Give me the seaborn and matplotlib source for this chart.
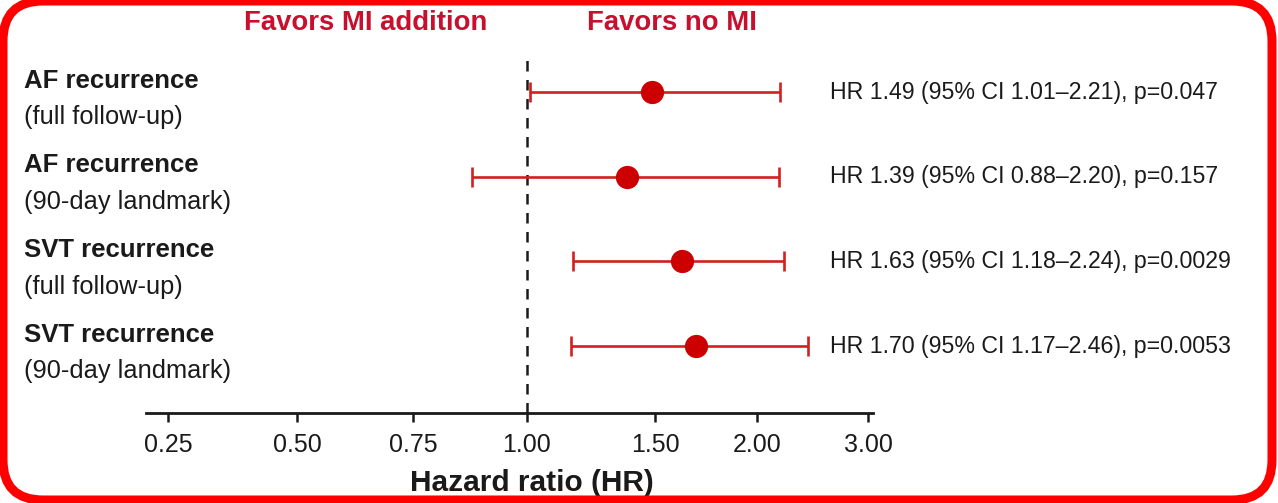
import numpy as np
import pandas as pd
import matplotlib
matplotlib.use("Agg")
import matplotlib.pyplot as plt
import matplotlib.transforms as mtransforms
from matplotlib.patches import FancyBboxPatch
import seaborn as sns

# ---- data -------------------------------------------------------------
outcomes = ["AF recurrence", "AF recurrence", "SVT recurrence", "SVT recurrence"]
windows = ["(full follow-up)", "(90-day landmark)", "(full follow-up)", "(90-day landmark)"]
hr = [1.49, 1.39, 1.63, 1.70]
ci_low = [1.01, 0.88, 1.18, 1.17]
ci_high = [2.21, 2.20, 2.24, 2.46]
p_values = ["0.047", "0.157", "0.0029", "0.0053"]

tick_values = [0.25, 0.50, 0.75, 1.00, 1.50, 2.00, 3.00]
tick_labels = ["0.25", "0.50", "0.75", "1.00", "1.50", "2.00", "3.00"]
# relative spacing of the tick marks along the axis
tick_spacing = [168, 297, 413, 527, 655, 757, 868]

df = pd.DataFrame({
    "outcome": outcomes, "window": windows, "hr": hr,
    "lo": ci_low, "hi": ci_high, "p": p_values,
})
df["row"] = np.arange(len(df))

# ---- style ------------------------------------------------------------
sns.set_theme(style="white")
FONT = ["Liberation Sans", "DejaVu Sans"]
plt.rcParams["font.family"] = FONT

RED_MARK = "#cc0000"
RED_BAR = "#d21f1f"
RED_TEXT = "#c8102e"
INK = "#1a1a1a"

W, H = 1278, 503
fig = plt.figure(figsize=(W / 100, H / 100), dpi=100)
fig.patch.set_facecolor("white")

ax = fig.add_axes([146 / W, 1 - 413 / H, (873 - 146) / W, (413 - 52) / H])

# piecewise-linear axis through the tick marks, extended linearly at both ends
tv = np.array(tick_values, float)
tp = np.array(tick_spacing, float)


def fwd(x):
    x = np.asarray(x, float)
    y = np.interp(x, tv, tp)
    lo_s = (tp[1] - tp[0]) / (tv[1] - tv[0])
    hi_s = (tp[-1] - tp[-2]) / (tv[-1] - tv[-2])
    y = np.where(x < tv[0], tp[0] + (x - tv[0]) * lo_s, y)
    y = np.where(x > tv[-1], tp[-1] + (x - tv[-1]) * hi_s, y)
    return y


def inv(y):
    y = np.asarray(y, float)
    x = np.interp(y, tp, tv)
    lo_s = (tv[1] - tv[0]) / (tp[1] - tp[0])
    hi_s = (tv[-1] - tv[-2]) / (tp[-1] - tp[-2])
    x = np.where(y < tp[0], tv[0] + (y - tp[0]) * lo_s, x)
    x = np.where(y > tp[-1], tv[-1] + (y - tp[-1]) * hi_s, x)
    return x


ax.set_xscale("function", functions=(fwd, inv))
ax.set_xlim(inv(146.0), inv(873.0))

step = 84.7
ax.set_ylim(3 + (361 - 40 - 3 * step) / step, -40 / step)

# reference line at HR = 1
ax.axvline(1.0, color=INK, lw=1.8, ls=(0, (4.2, 3.4)), zorder=1)

# confidence intervals
ax.errorbar(df["hr"], df["row"],
            xerr=[df["hr"] - df["lo"], df["hi"] - df["hr"]],
            fmt="none", ecolor=RED_BAR, elinewidth=1.9,
            capsize=7.2, capthick=1.9, zorder=2)

# point estimates
sns.scatterplot(data=df, x="hr", y="row", ax=ax, s=280, color=RED_MARK,
                edgecolor=RED_MARK, linewidth=0, zorder=3, legend=False)

# axes styling
for side in ["top", "right", "left"]:
    ax.spines[side].set_visible(False)
ax.spines["bottom"].set_linewidth(2.0)
ax.spines["bottom"].set_color(INK)
ax.set_yticks([])
ax.set_xticks(tick_values)
ax.set_xticklabels(tick_labels)
ax.xaxis.set_minor_locator(matplotlib.ticker.NullLocator())
ax.tick_params(axis="x", direction="out", length=6.5, width=1.8, color=INK,
               pad=8, labelsize=18, labelcolor=INK, bottom=True)
ax.set_xlabel("Hazard ratio (HR)", fontsize=21.5, fontweight="bold",
              color=INK)
ax.xaxis.set_label_coords((532 - 146) / (873 - 146), -0.155)
ax.set_ylabel("")
ax.set_facecolor("none")
ax.grid(False)

# row labels on the left and estimates on the right
trans = mtransforms.blended_transform_factory(fig.transFigure, ax.transData)
for _, r in df.iterrows():
    ax.text(24 / W, r["row"] - 0.05, r["outcome"], transform=trans,
            ha="left", va="baseline", fontsize=18.5, fontweight="bold",
            color=INK, clip_on=False)
    ax.text(24 / W, r["row"] + 0.38, r["window"], transform=trans,
            ha="left", va="baseline", fontsize=18.3, color=INK, clip_on=False)
    label = (f"HR {r['hr']:.2f} (95% CI {r['lo']:.2f}\u2013{r['hi']:.2f}), "
             f"p={r['p']}")
    ax.text(830 / W, r["row"], label, transform=trans, ha="left",
            va="center", fontsize=16.7, color=INK, clip_on=False)

# direction headers
fig.text(366 / W, 1 - 23 / H, "Favors MI addition", ha="center", va="center",
         fontsize=19.8, fontweight="bold", color=RED_TEXT)
fig.text(672 / W, 1 - 23 / H, "Favors no MI", ha="center", va="center",
         fontsize=19.8, fontweight="bold", color=RED_TEXT)

# rounded red frame
frame = FancyBboxPatch((3 / 100, 3 / 100), (1272 - 3) / 100, (502 - 3) / 100,
                       boxstyle="round,pad=0,rounding_size=0.4",
                       transform=fig.dpi_scale_trans, fill=False,
                       edgecolor="#ff0000", linewidth=6.5, zorder=10)
fig.patches.append(frame)

fig.savefig("out.png", dpi=100, facecolor="white")
